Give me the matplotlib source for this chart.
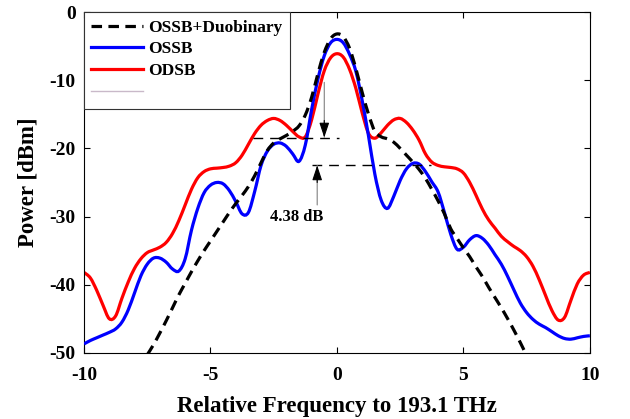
import numpy as np
import matplotlib
matplotlib.use("Agg")
import matplotlib.pyplot as plt
from matplotlib.lines import Line2D
from matplotlib.path import Path
from matplotlib.patches import PathPatch

# ---------------- data ----------------
freq = np.arange(-10, 10.001, 0.25)

odsb = [-38.2, -39.0, -40.8, -43.0, -45.0, -44.6, -42.0, -39.6, -37.6, -36.2,
        -35.3, -34.9, -34.5, -33.8, -32.5, -30.6, -28.3, -26.0, -24.3, -23.4,
        -23.0, -22.9, -22.8, -22.6, -22.1, -21.0, -19.4, -17.8, -16.6, -15.9,
        -15.6, -15.9, -16.6, -17.5, -18.3, -18.3, -15.8, -12.0, -8.6, -6.7,
        -6.1,
        -6.6, -8.4, -11.2, -14.8, -17.8, -18.5, -17.7, -16.6, -15.8, -15.6,
        -16.2, -17.3, -18.8, -20.8, -22.0, -22.5, -22.7, -22.8, -23.0, -23.6,
        -25.0, -26.9, -28.9, -30.5, -31.7, -32.9, -33.7, -34.4, -35.0, -35.9,
        -37.3, -39.3, -41.6, -43.8, -45.2, -44.8, -42.3, -39.9, -38.6, -38.2]

ossb = [-48.7, -48.2, -47.8, -47.4, -47.0, -46.5, -45.5, -43.7, -41.2, -38.7,
        -37.0, -36.1, -36.1, -36.7, -37.7, -38.0, -36.2, -32.0, -28.8, -26.5,
        -25.4, -25.0, -25.2, -26.2, -27.8, -29.6, -29.4, -26.3, -22.5, -20.4,
        -19.4, -19.2, -19.7, -20.8, -21.9, -19.5, -14.3, -9.8, -6.4, -4.5,
        -4.0,
        -4.5, -6.2, -8.7, -13.0, -18.2, -23.8, -27.6, -28.8, -27.0, -24.7,
        -23.0, -22.2, -22.3, -23.4, -24.9, -26.4, -29.4, -32.6, -34.8, -34.5,
        -33.4, -32.8, -33.2, -34.2, -35.6, -37.0, -38.8, -40.8, -42.7, -44.1,
        -45.1, -45.8, -46.3, -46.9, -47.5, -47.9, -48.0, -47.8, -47.6, -47.5]

freq_duo = np.arange(-7.5, 7.501, 0.25)
ossb_duo = [-50.3, -48.8, -47.1, -45.3, -43.4, -41.5, -39.8, -38.1, -36.5, -35.0,
            -33.6, -32.2, -30.8, -29.4, -28.1, -26.9, -25.6, -24.0, -22.1, -20.3,
            -19.2, -18.6, -18.1, -17.5, -16.7, -15.1, -12.5, -9.0, -5.9, -3.9,
            -3.2,
            -3.6, -5.3, -8.3, -11.8, -15.0, -17.5, -18.3, -18.6, -19.1, -20.0,
            -21.0, -22.0, -23.1, -24.4, -26.0, -27.7, -29.6, -31.8, -33.2, -34.6,
            -35.9, -37.4, -38.8, -40.4, -41.9, -43.4, -45.0, -46.7, -48.5, -50.4]

series_labels = ["OSSB+Duobinary", "OSSB", "ODSB"]
xticks = [-10, -5, 0, 5, 10]
yticks = [0, -10, -20, -30, -40, -50]

# annotation levels
upper_level = -18.4
lower_level = -22.5
upper_span = (-3.3, 0.1)
lower_span = (-1.0, 3.7)
gap_text = "4.38 dB"

# ---------------- plot ----------------
plt.rcParams['font.family'] = ['Liberation Serif', 'DejaVu Serif']
plt.rcParams['font.weight'] = 'bold'
plt.rcParams['axes.unicode_minus'] = False

fig = plt.figure(figsize=(6.3, 4.19), dpi=100)
ax = fig.add_axes([0.1333, 0.158, 0.803, 0.813])


def smooth_line(x, y, **kw):
    """Draw a smooth curve through the data points (Catmull-Rom as Bezier)."""
    pts = np.column_stack([np.asarray(x, float), np.asarray(y, float)])
    n = len(pts)
    verts = [pts[0]]
    codes = [Path.MOVETO]
    for i in range(n - 1):
        p0 = pts[max(i - 1, 0)]
        p1 = pts[i]
        p2 = pts[i + 1]
        p3 = pts[min(i + 2, n - 1)]
        verts += [p1 + (p2 - p0) / 6.0, p2 - (p3 - p1) / 6.0, p2]
        codes += [Path.CURVE4] * 3
    patch = PathPatch(Path(verts, codes), fill=False, **kw)
    ax.add_patch(patch)
    return patch


lw = 2.3
smooth_line(freq_duo, ossb_duo, edgecolor='black', lw=lw,
            linestyle=(0, (3.3, 2.0)), zorder=4, capstyle='butt')
smooth_line(freq, ossb, edgecolor='#0000ff', lw=lw, zorder=3)
smooth_line(freq, odsb, edgecolor='#ff0000', lw=lw, zorder=2)

# horizontal reference lines
ax.plot(upper_span, [upper_level, upper_level], color='black', lw=1.0,
        dashes=(7, 5), zorder=5)
ax.plot(lower_span, [lower_level, lower_level], color='black', lw=1.0,
        dashes=(7, 5), zorder=5)


# arrows (gray shaft, black head)
def arrow(x, y_tail, y_tip):
    ax.annotate('', xy=(x, y_tip), xytext=(x, y_tail),
                arrowprops=dict(arrowstyle='-', color='#808080', lw=0.8,
                                shrinkA=0, shrinkB=0),
                zorder=6)
    sign = 1 if y_tail > y_tip else -1
    ax.annotate('', xy=(x, y_tip), xytext=(x, y_tip + sign * 2.5),
                arrowprops=dict(arrowstyle='-|>,head_length=0.9,head_width=0.3',
                                color='black', lw=0.8, shrinkA=0, shrinkB=0),
                zorder=6)


arrow(-0.5, -10.3, upper_level)
arrow(-0.78, -28.3, lower_level)
ax.text(-1.6, -30.1, gap_text, ha='center', va='center', fontsize=12,
        fontweight='bold')

ax.set_xlim(-10, 10)
ax.set_ylim(-50, 0)
ax.set_xticks(xticks)
ax.set_yticks(yticks)
ax.tick_params(direction='in', top=True, right=True, length=4, width=0.8,
               labelsize=14)
ax.tick_params(axis='x', pad=10)
ax.tick_params(axis='y', pad=6)
for lab in ax.get_xticklabels() + ax.get_yticklabels():
    lab.set_fontweight('bold')
for s in ax.spines.values():
    s.set_linewidth(0.8)

ax.set_xlabel('Relative Frequency to 193.1 THz', fontsize=16.5,
              fontweight='bold', labelpad=9)
ax.set_ylabel('Power [dBm]', fontsize=16.5, fontweight='bold', labelpad=8)

handles = [Line2D([], [], color='black', lw=lw, dashes=(3.3, 2.0)),
           Line2D([], [], color='#0000ff', lw=lw),
           Line2D([], [], color='#ff0000', lw=lw),
           Line2D([], [], color='#c9b9c9', lw=1.0)]
leg = ax.legend(handles, series_labels + [' '], loc='upper left',
                bbox_to_anchor=(0, 1), borderaxespad=0.0, fancybox=False,
                framealpha=1, edgecolor='#333333',
                handlelength=3.0, handletextpad=0.3, labelspacing=0.33,
                borderpad=0.42, prop={'weight': 'bold', 'size': 12.5})
leg.get_frame().set_linewidth(0.8)
leg.set_zorder(10)

fig.savefig('out.png', dpi=100)
